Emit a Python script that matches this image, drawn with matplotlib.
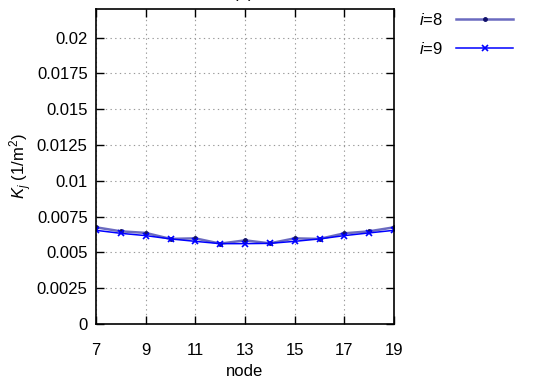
import matplotlib
matplotlib.use("Agg")
import matplotlib.pyplot as plt
from matplotlib.ticker import MultipleLocator, FormatStrFormatter

plt.rcParams['font.family'] = ['Liberation Sans', 'DejaVu Sans']
plt.rcParams['mathtext.fontset'] = 'custom'
plt.rcParams['mathtext.rm'] = 'Liberation Sans'
plt.rcParams['mathtext.it'] = 'Liberation Sans:italic'
plt.rcParams['font.size'] = 12

# curvature per node for two iterations
nodes = [7, 8, 9, 10, 11, 12, 13, 14, 15, 16, 17, 18, 19]
k_i8 = [0.00675, 0.00647, 0.00636, 0.00594, 0.00598, 0.00561, 0.00584,
        0.00563, 0.00598, 0.00594, 0.00633, 0.00647, 0.00675]
k_i9 = [0.00654, 0.00633, 0.00617, 0.00594, 0.00577, 0.00561, 0.00561,
        0.00563, 0.00577, 0.00594, 0.00617, 0.00636, 0.00654]

x_ticks = [7, 9, 11, 13, 15, 17, 19]

fig = plt.figure(figsize=(5.53, 3.88), dpi=100)
ax = fig.add_axes([0.1736, 0.165, 0.5389, 0.812])

ax.plot(nodes, k_i8, color='#6b6bc0', lw=1.8, marker='.', markersize=5,
        markerfacecolor='#10106a', markeredgecolor='#10106a', label='$i$=8')
ax.plot(nodes, k_i9, color='#0000ff', lw=1.1, marker='x', markersize=4,
        markeredgewidth=1.2, label='$i$=9')

ax.set_xlim(7, 19)
ax.set_ylim(0, 0.022)
ax.set_xticks(x_ticks)
ax.yaxis.set_major_locator(MultipleLocator(0.0025))
ax.yaxis.set_major_formatter(FormatStrFormatter('%g'))

ax.tick_params(direction='in', top=True, right=True, length=6, width=1)
ax.tick_params(axis='x', pad=14)
ax.tick_params(axis='y', pad=6)
for s in ax.spines.values():
    s.set_linewidth(1.2)

ax.grid(True, linestyle=(0, (1.2, 3)), color='#999999', linewidth=0.8)

ax.set_xlabel('node', labelpad=4)
ax.set_ylabel('$K_j$ (1/m$^2$)', labelpad=2)

fig.text(0.44, 1.018, '(a)', ha='center', va='center', fontsize=12)

fig.legend(loc='upper right', bbox_to_anchor=(513 / 553, 1 - 12 / 388),
           frameon=False, markerfirst=False, borderaxespad=0, borderpad=0,
           handlelength=3.4, handletextpad=0.8, labelspacing=0.75)

fig.savefig('out.png', dpi=100)
